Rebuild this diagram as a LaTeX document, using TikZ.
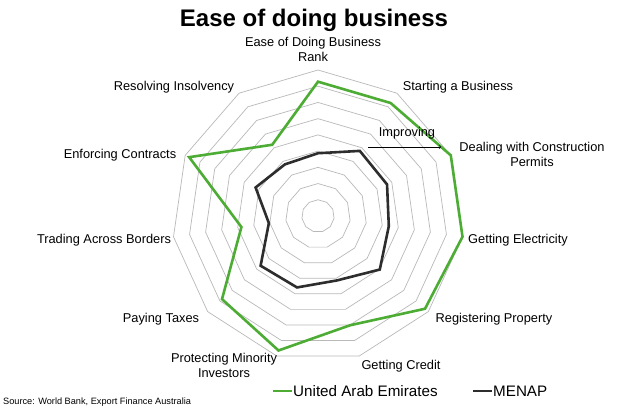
\documentclass[tikz,border=0pt]{standalone}
\usepackage{fontspec}
\setmainfont{Liberation Sans}
\begin{document}
\begin{tikzpicture}[x=1pt,y=-1pt,
  lbl/.style={font=\fontsize{12.8}{15}\selectfont,align=center,inner sep=0},
  leg/.style={font=\fontsize{15.2}{17}\selectfont,inner sep=0,anchor=west},
  ring/.style={draw=gray!55,line width=0.7},
  uae/.style={draw={rgb,255:red,76;green,172;blue,52},line width=2.6,line join=miter},
  men/.style={draw={rgb,255:red,45;green,45;blue,45},line width=2.6,line join=miter}]
\useasboundingbox (0,0) rectangle (629,414);
\fill[white] (0,0) rectangle (629,414);
\coordinate (c) at (318,216);
\def\R{146}
\foreach \k in {1,...,9}{
  \draw[ring] plot[samples at={0,...,10}] ({318+\k/9*\R*sin(\x*360/11)},{216-\k/9*\R*cos(\x*360/11)}) -- cycle;
}
\def\pl#1#2{%
  \draw[#1] plot[samples at={0,...,10},variable=\i] ({318+\R*(#2)*sin(\i*360/11)},{216-\R*(#2)*cos(\i*360/11)}) -- cycle;}
\pl{uae}{{0.92,0.92,1.0,1.0,0.97,0.78,0.96,0.87,0.53,0.97,0.58}[\i]}
\pl{men}{{0.43,0.53,0.52,0.49,0.56,0.46,0.51,0.52,0.34,0.47,0.42}[\i]}
\node[font=\bfseries\fontsize{24}{27}\selectfont] (title) at (314,20) {Ease of doing business};
\node[lbl] (l0) at (313,49) {Ease of Doing Business\\Rank};
\node[lbl] (l1) at (458,87) {Starting a Business};
\node[lbl] (l2) at (532,154) {Dealing with Construction\\Permits};
\node[lbl] (l3) at (518,240) {Getting Electricity};
\node[lbl] (l4) at (494,319) {Registering Property};
\node[lbl] (l5) at (401,366) {Getting Credit};
\node[lbl] (l6) at (224,365) {Protecting Minority\\Investors};
\node[lbl] (l7) at (161,319) {Paying Taxes};
\node[lbl] (l8) at (104,240) {Trading Across Borders};
\node[lbl] (l9) at (120,155) {Enforcing Contracts};
\node[lbl] (l10) at (174,87) {Resolving Insolvency};
\coordinate (a1) at (368,147);
\coordinate (a2) at (441,147);
\draw[->,line width=0.6] (a1) -- (a2);
\node[lbl] (imp) at (407,133) {Improving};
\coordinate (g1) at (273,391); \coordinate (g2) at (292,391);
\draw[uae] (g1) -- (g2);
\node[leg] (lg1) at (293,391) {United Arab Emirates};
\coordinate (m1) at (473,391); \coordinate (m2) at (492,391);
\draw[men] (m1) -- (m2);
\node[leg] (lg2) at (493,391) {MENAP};
\node[anchor=west,inner sep=0,font=\fontsize{9.2}{10}\selectfont] (src) at (3,402) {Source: World Bank, Export Finance Australia};
\end{tikzpicture}
\end{document}
